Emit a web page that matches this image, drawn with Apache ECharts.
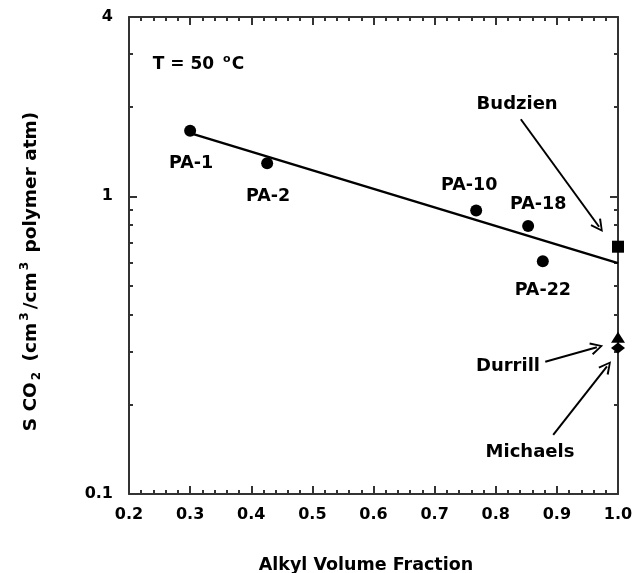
<!DOCTYPE html>
<html>
<head>
<meta charset="utf-8">
<script src="https://cdn.jsdelivr.net/npm/echarts@6/dist/echarts.min.js"></script>
<style>
  html, body { margin: 0; padding: 0; background: #fff; }
  #chart { width: 633px; height: 573px; }
</style>
</head>
<body>
<div id="chart"></div>
<script>
// polyamide samples
const paNames = ['PA-1', 'PA-2', 'PA-10', 'PA-18', 'PA-22'];
const paX = [0.3, 0.426, 0.768, 0.853, 0.877];
const paY = [1.66, 1.29, 0.895, 0.795, 0.605];

// literature values for pure alkyl (fraction 1.0)
const litNames = ['Budzien', 'Durrill', 'Michaels'];
const litX = [1.0, 1.0, 1.0];
const litY = [0.677, 0.336, 0.309];

// fitted line
const fitX = [0.3, 1.0];
const fitY = [1.63, 0.596];

// axis ticks
const yLabelValues = [0.1, 1, 4];
const yMajorTicks = [1];
const yMinorTicks = [0.2, 0.3, 0.4, 0.5, 0.6, 0.7, 0.8, 0.9, 2, 3];

// annotation text anchors and arrows (data coordinates)
const noteText = ['Budzien', 'Durrill', 'Michaels'];
const noteX = [0.835, 0.820, 0.856];
const noteY = [2.04, 0.269, 0.1384];
const arrowFrom = [[0.841, 1.814], [0.881, 0.278], [0.894, 0.158]];
const arrowTo = [[0.969, 0.790], [0.9655, 0.311], [0.982, 0.2684]];

const paLabelOffset = [[1, 33], [1, 33], [-7, -25], [10, -21], [0, 29]];
const litSymbols = ['rect', 'triangle', 'diamond'];
const litSizes = [[12, 12], [14, 11], [14, 11]];

const font = 'DejaVu Sans';
const axisColor = '#333';
const chevron = 'path://M5,0 L10,10 L8.6,10.8 L5,3 L1.4,10.8 L0,10 Z';

function xAx(pos, showLabel) {
  return {
    type: 'value',
    position: pos,
    min: 0.2,
    max: 1.0,
    interval: 0.1,
    axisLine: { show: true, onZero: false, lineStyle: { color: axisColor, width: 2 } },
    axisTick: { show: true, inside: true, length: 8, lineStyle: { color: axisColor, width: 2 } },
    minorTick: { show: true, splitNumber: 5, length: 4, lineStyle: { color: axisColor, width: 2 } },
    splitLine: { show: false },
    axisLabel: {
      show: showLabel, margin: 13, fontSize: 16, fontWeight: 'bold',
      color: '#000', fontFamily: font,
      formatter: v => v.toFixed(1)
    }
  };
}

function yAx(pos, ticks, len, showLine, showLabel) {
  return {
    type: 'log',
    logBase: 10,
    position: pos,
    min: 0.1,
    max: 4,
    axisLine: { show: showLine, lineStyle: { color: axisColor, width: 2 } },
    axisTick: {
      show: true, inside: true, length: len, customValues: ticks,
      lineStyle: { color: axisColor, width: 2 }
    },
    splitLine: { show: false },
    axisLabel: {
      show: showLabel, margin: 16, fontSize: 16, fontWeight: 'bold',
      color: '#000', fontFamily: font,
      customValues: yLabelValues,
      formatter: v => String(+(+v).toPrecision(3))
    }
  };
}

const chart = echarts.init(document.getElementById('chart'), null, { renderer: 'canvas' });

const yMain = yAx('left', yMajorTicks, 8, true, true);
yMain.name = 'S CO{sub|2} (cm{sup|3}/cm{sup|3} polymer atm)';
yMain.nameLocation = 'middle';
yMain.nameRotate = 90;
yMain.nameGap = 86;
yMain.nameTextStyle = {
  fontSize: 18.5, fontWeight: 'bold', color: '#000', fontFamily: font,
  lineHeight: 24, padding: [0, 32, 0, 0],
  rich: {
    sub: { fontSize: 12, lineHeight: 12, verticalAlign: 'bottom', fontWeight: 'bold', fontFamily: font, padding: [0, 4, 0, 2] },
    sup: { fontSize: 12, lineHeight: 12, verticalAlign: 'top', fontWeight: 'bold', fontFamily: font, padding: [0, 3, 0, 2] }
  }
};

const xMain = xAx('bottom', true);
xMain.name = 'Alkyl Volume Fraction';
xMain.nameLocation = 'middle';
xMain.nameGap = 62;
xMain.nameTextStyle = {
  fontSize: 17.5, fontWeight: 'bold', color: '#000', fontFamily: font,
  padding: [0, 15, 0, 0]
};

const option = {
  animation: false,
  backgroundColor: '#fff',
  textStyle: { fontFamily: font },
  grid: { left: 129, right: 15, top: 17, bottom: 79, outerBoundsMode: 'none' },
  xAxis: [xMain, xAx('top', false)],
  yAxis: [
    yMain,
    yAx('left', yMinorTicks, 4, false, false),
    yAx('right', yMajorTicks, 8, true, false),
    yAx('right', yMinorTicks, 4, false, false)
  ],
  series: [
    {
      name: 'fit',
      type: 'line',
      data: fitX.map((x, i) => [x, fitY[i]]),
      symbol: 'none',
      lineStyle: { color: '#000', width: 2.5 },
      silent: true,
      z: 2
    },
    {
      name: 'PA',
      type: 'scatter',
      symbol: 'circle',
      symbolSize: 12,
      itemStyle: { color: '#000', opacity: 1 },
      data: paX.map((x, i) => ({
        value: [x, paY[i]],
        name: paNames[i],
        label: { offset: paLabelOffset[i] }
      })),
      label: {
        show: true, position: 'inside', formatter: '{b}',
        color: '#000', fontSize: 17.5, fontWeight: 'bold', fontFamily: font
      },
      z: 3
    },
    {
      name: 'literature',
      type: 'scatter',
      clip: false,
      itemStyle: { color: '#000', opacity: 1 },
      data: litX.map((x, i) => ({
        value: [x, litY[i]],
        name: litNames[i],
        symbol: litSymbols[i],
        symbolSize: litSizes[i]
      })),
      z: 3
    },
    {
      name: 'notes',
      type: 'scatter',
      symbolSize: 0,
      silent: true,
      itemStyle: { opacity: 1 },
      data: noteText.map((t, i) => ({ value: [noteX[i], noteY[i]], name: t })),
      label: {
        show: true, position: 'inside', formatter: '{b}',
        color: '#000', fontSize: 18, fontWeight: 'bold', fontFamily: font
      },
      markLine: {
        silent: true,
        symbol: ['none', chevron],
        symbolSize: [13, 13],
        label: { show: false },
        lineStyle: { color: '#000', width: 2, type: 'solid', opacity: 1 },
        data: arrowFrom.map((p, i) => [{ coord: p }, { coord: arrowTo[i] }])
      }
    },
    {
      name: 'temperature',
      type: 'scatter',
      symbolSize: 0,
      silent: true,
      itemStyle: { opacity: 1 },
      data: [{ value: [0.239, 2.76], name: 'T' }],
      label: {
        show: true, position: 'inside', align: 'left',
        formatter: 'T = 50 {sup|o}C',
        color: '#000', fontSize: 17, fontWeight: 'bold', fontFamily: font, lineHeight: 22,
        rich: {
          sup: { fontSize: 11, lineHeight: 11, verticalAlign: 'top', fontWeight: 'bold', fontFamily: font, padding: [0, 1, 0, 3] }
        }
      }
    }
  ]
};

chart.setOption(option);
window.addEventListener('resize', () => chart.resize());
</script>
</body>
</html>
